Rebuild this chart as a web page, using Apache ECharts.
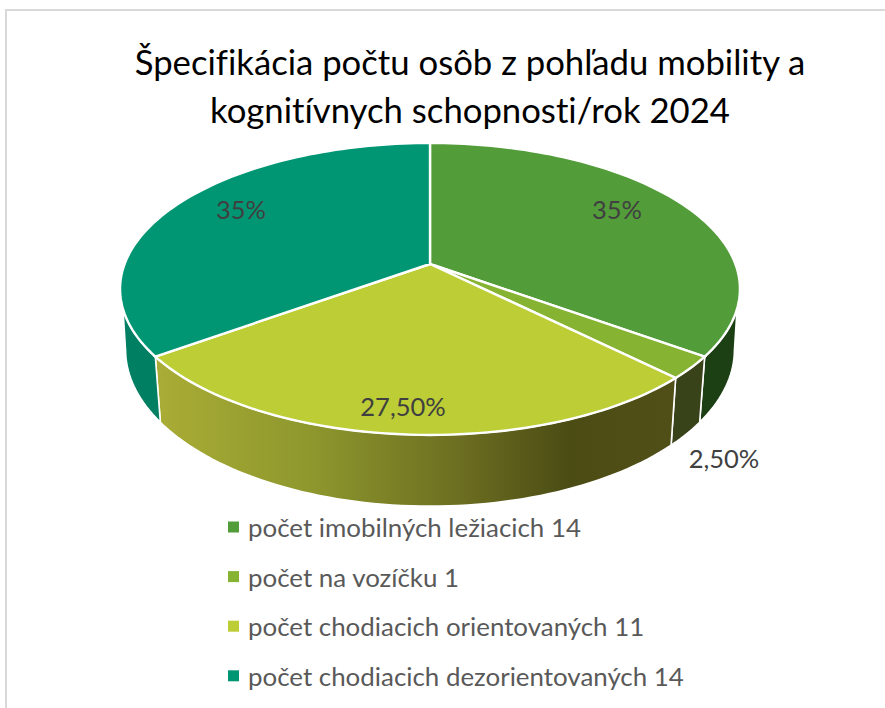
<!DOCTYPE html>
<html><head><meta charset="utf-8">
<style>html,body{margin:0;padding:0;background:#fff}#c{width:885px;height:708px}#c text{font-variant-ligatures:none}</style>
<script src="https://cdn.jsdelivr.net/npm/echarts@6/dist/echarts.min.js"></script>
</head><body><div id="c"></div>
<script>
const titleLines = ['Špecifikácia počtu osôb z pohľadu mobility a','kognitívnych schopnosti/rok 2024'];
const categories = ['počet imobilných ležiacich 14','počet na vozíčku 1','počet chodiacich orientovaných 11','počet chodiacich dezorientovaných 14'];
const values = [14,1,11,14];
const labels = ['35%','2,50%','27,50%','35%'];
const topColors = ['#539C3A','#86B331','#BCCD36','#009673'];
const sideColors = ['#1C3F14','#39431A',null,'#007F63'];
const labelPos = [[617,209],[724,458],[403,406],[241,209]];

const total = values.reduce((a,b)=>a+b,0);
const D = Math.PI/180;
const topGeo = {cx:430, cy:264, a:305.4, b:141.7, k:0.171};
const lowGeo = {cx:430, cy:323, a:300, b:152, k:0.17};
function pt(g, deg, r){
  r = r===undefined?1:r;
  const X = r*Math.sin(deg*D), Y = -r*Math.cos(deg*D), d = 1-g.k*Y;
  return [g.cx+g.a*X/d, g.cy+g.b*Y/d];
}
function arc(g, from, to){
  const n = Math.max(2, Math.ceil(Math.abs(to-from)/1.5)), out=[];
  for(let i=0;i<=n;i++) out.push(pt(g, from+(to-from)*i/n));
  return out;
}
function range(i){
  let s=0; for(let j=0;j<i;j++) s+=values[j];
  return [s/total*360,(s+values[i])/total*360];
}
const sideGrad = new echarts.graphic.LinearGradient(160,0,670,0,[
  {offset:0,color:'#A9AC35'},{offset:0.3,color:'#8D972D'},{offset:0.6,color:'#6B6C20'},
  {offset:0.8,color:'#4B4C14'},{offset:1,color:'#514F18'}],true);

function renderSide(params){
  const i = params.dataIndex;
  let [s,e] = range(i);
  // the wall only shows on the near half of the rim
  const sTop=Math.max(s,107.5), eTop=Math.min(e,252.5), sLow=Math.max(s,100), eLow=Math.min(e,260);
  if(eTop<=sTop) return null;
  const poly = arc(topGeo,sTop,eTop).concat(arc(lowGeo,eLow,sLow));
  return {type:'polygon', shape:{points:poly},
    style:{fill: sideColors[i]||sideGrad, stroke:'#fff', lineWidth:1.6, lineJoin:'round'}};
}
function renderTop(i){
  return function(){
    const [s,e] = range(i);
    const poly = [pt(topGeo,0,0)].concat(arc(topGeo,s,e));
    return {type:'polygon', shape:{points:poly},
      style:{fill:topColors[i], stroke:'#fff', lineWidth:2.4, lineJoin:'miter'}};
  };
}
function renderLabel(params){
  const i = params.dataIndex;
  return {type:'text', style:{x:labelPos[i][0], y:labelPos[i][1], text:labels[i],
    fill:'#404040', font:'25.5px Lato, "Noto Sans", sans-serif', align:'center', verticalAlign:'middle'}};
}
const none = {coordinateSystem:'none', silent:true, animation:false};
const chart = echarts.init(document.getElementById('c'),null,{renderer:'svg'});
chart.setOption({
  animation:false,
  graphic:[{type:'rect', shape:{x:6,y:10,width:900,height:720}, style:{fill:'none',stroke:'#D9D9D9',lineWidth:2}}],
  title:{text:titleLines.join('\n'), left:465, top:32, textAlign:'center',
    textStyle:{color:'#000',fontFamily:'Lato, "Noto Sans", sans-serif',fontWeight:'normal',fontSize:34.7,lineHeight:48}},
  legend:{orient:'vertical', left:223, top:508, itemWidth:11, itemHeight:11, itemGap:21.6,
    icon:'rect', data:categories, selectedMode:false,
    textStyle:{color:'#595959',fontFamily:'Lato, "Noto Sans", sans-serif',fontSize:25.9,padding:[0,0,0,4],lineHeight:28}},
  series:[
    Object.assign({type:'custom',name:'steny',z:1,data:values.map((v,i)=>[v,i]),renderItem:renderSide},none),
    ...categories.map((c,i)=>Object.assign({type:'custom',name:c,z:2,itemStyle:{color:topColors[i]},
      data:[[values[i],i]],renderItem:renderTop(i)},none)),
    Object.assign({type:'custom',name:'popisy',z:3,data:values.map((v,i)=>[v,i]),renderItem:renderLabel},none)
  ]
});
</script></body></html>
